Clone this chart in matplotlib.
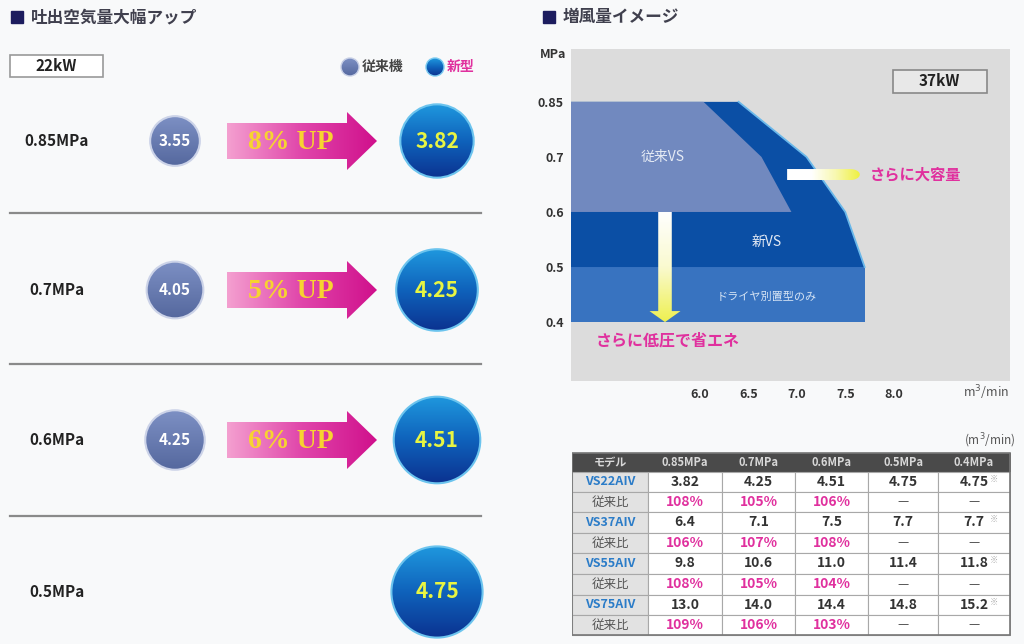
import numpy as np
import matplotlib
matplotlib.use('Agg')
import matplotlib.pyplot as plt
from matplotlib.patches import Circle, Polygon, Rectangle
from matplotlib.colors import LinearSegmentedColormap

plt.rcParams['font.family'] = ['Noto Sans CJK JP', 'DejaVu Sans']

# ---- data ----
kw22_pressures = ['0.85MPa', '0.7MPa', '0.6MPa', '0.5MPa']
kw22_old = [3.55, 4.05, 4.25]
models = ['VS22AⅣ', 'VS37AⅣ', 'VS55AⅣ', 'VS75AⅣ']
decimals = [2, 1, 1, 1]
table_pressures = [0.85, 0.7, 0.6, 0.5, 0.4]
header = ['モデル', '0.85MPa', '0.7MPa', '0.6MPa', '0.5MPa', '0.4MPa']
flows = [[3.82, 4.25, 4.51, 4.75, 4.75],
         [6.4, 7.1, 7.5, 7.7, 7.7],
         [9.8, 10.6, 11.0, 11.4, 11.8],
         [13.0, 14.0, 14.4, 14.8, 15.2]]
ratios = [[108, 105, 106],
          [106, 107, 108],
          [108, 105, 104],
          [109, 106, 103]]
x_ticks = [6.0, 6.5, 7.0, 7.5, 8.0]
y_levels = [0.4, 0.5, 0.6, 0.7, 0.85]

W, H = 1024, 644
BG = '#f8f9fa'
MAG = '#e0309e'
NEW_COLS = ['#1f98de', '#0f62bb', '#0b3290']
OLD_COLS = ['#7d90c4', '#55689e']

fig = plt.figure(figsize=(W / 100, H / 100), dpi=100)
fig.patch.set_facecolor(BG)


def px_axes(x0, y0, x1, y1):
    return fig.add_axes([x0 / W, 1 - y1 / H, (x1 - x0) / W, (y1 - y0) / H])


def grad_fill(ax, patch, colors, extent, vertical=True, z=3):
    patch.set_facecolor('none')
    patch.set_zorder(z + 0.1)
    ax.add_patch(patch)
    cmap = LinearSegmentedColormap.from_list('g', colors)
    g = np.linspace(0, 1, 256)
    arr = g[:, None] if vertical else g[None, :]
    im = ax.imshow(arr, cmap=cmap, extent=extent, aspect='auto',
                   interpolation='bicubic', zorder=z)
    im.set_clip_path(patch)


bg = fig.add_axes([0, 0, 1, 1])
bg.axis('off')

# ---- titles ----
for x, title in [(11, '吐出空気量大幅アップ'), (543, '増風量イメージ')]:
    bg.add_patch(Rectangle((x, 11), 12, 12, color='#1c1c5e'))
    bg.text(x + 20, 17, title, fontsize=12, fontweight='bold', color='#40404e',
            va='center', ha='left')

# ---- left panel ----
bg.add_patch(Rectangle((10, 55), 93, 22, fc='white', ec='#999999', lw=1.2))
bg.text(56, 66, '22kW', fontsize=11, fontweight='bold', ha='center', va='center', color='#222')

grad_fill(bg, Circle((350, 67), 9, ec='#c8d0e6', lw=1), OLD_COLS, (341, 359, 76, 58))
bg.text(362, 67, '従来機', fontsize=10, fontweight='bold', color='#444', va='center')
grad_fill(bg, Circle((435, 67), 9, ec='#7ccbf0', lw=1), NEW_COLS, (426, 444, 76, 58))
bg.text(447, 67, '新型', fontsize=10, fontweight='bold', color=MAG, va='center')

rows_y = [141, 290, 440, 592]
for y in [213, 364, 516]:
    bg.plot([10, 481], [y, y], color='#8a8a8a', lw=1.6)

for i, (label, cy) in enumerate(zip(kw22_pressures, rows_y)):
    bg.text(57, cy, label, fontsize=11, fontweight='bold', color='#222', ha='center', va='center')
    new_v = flows[0][i]
    r = 9.6 * new_v
    grad_fill(bg, Circle((437, cy), r, ec='#6cc4ee', lw=1.5),
              NEW_COLS, (437 - r, 437 + r, cy + r, cy - r))
    bg.text(437, cy, f'{new_v:.2f}', fontsize=15, fontweight='bold', color='#e8f542',
            ha='center', va='center', zorder=5)
    if i < len(kw22_old):
        old_v = kw22_old[i]
        r = 7.0 * old_v
        grad_fill(bg, Circle((175, cy), r, ec='#ccd3e8', lw=1.5),
                  OLD_COLS, (175 - r, 175 + r, cy + r, cy - r))
        bg.text(175, cy, f'{old_v:.2f}', fontsize=11, fontweight='bold', color='white',
                ha='center', va='center', zorder=5)
        verts = [(227, cy - 18), (347, cy - 18), (347, cy - 29), (377, cy),
                 (347, cy + 29), (347, cy + 18), (227, cy + 18)]
        grad_fill(bg, Polygon(verts, closed=True, lw=0), ['#f4a0d0', '#e045aa', '#d0108c'],
                  (227, 377, cy + 29, cy - 29), vertical=False)
        bg.text(291, cy + 1, f'{ratios[0][i] - 100}% UP', fontsize=20, fontweight='heavy',
                family=['Liberation Serif', 'DejaVu Serif'], color='#f7d330',
                ha='center', va='center', zorder=5)

bg.set_xlim(0, W)
bg.set_ylim(H, 0)

# ---- right chart ----
ax = px_axes(571, 49, 1010, 381)
ax.set_facecolor('#dcdcdc')


def ypos(p):
    return np.interp(p, y_levels, np.arange(len(y_levels)))


x0, x1 = 4.67, 9.2
new37 = flows[1]
old37 = [v / (r / 100) for v, r in zip(new37, ratios[1])]

ax.add_patch(Rectangle((x0, ypos(0.4)), new37[4] - x0, ypos(0.5) - ypos(0.4),
                       color='#3873c0', lw=0, zorder=2))
new_poly = [(x0, ypos(0.85))] + [(v, ypos(p)) for v, p in zip(new37[:4], table_pressures[:4])] \
    + [(x0, ypos(0.5))]
ax.add_patch(Polygon(new_poly, closed=True, color='#0b4fa5', lw=0, zorder=2))
ax.plot(new37[:4], [ypos(p) for p in table_pressures[:4]], color='#6ab8ea', lw=1.3, zorder=2.5)
old_poly = [(x0, ypos(0.85))] + [(v, ypos(p)) for v, p in zip(old37, table_pressures[:3])] \
    + [(x0, ypos(0.6))]
ax.add_patch(Polygon(old_poly, closed=True, color='#7189bf', lw=0, zorder=2.6))

ax.text(5.62, 3.0, '従来VS', fontsize=10, color='#e4eaf4', ha='center', va='center', zorder=4)
ax.text(6.69, 1.45, '新VS', fontsize=10, color='#e4eaf4', ha='center', va='center', zorder=4)
ax.text(6.69, 0.45, 'ドライヤ別置型のみ', fontsize=8, color='#d6e4f4', ha='center', va='center', zorder=4)

# down arrow
ax_c = 5.64
varrow = [(ax_c - 0.07, 2.0), (ax_c + 0.07, 2.0), (ax_c + 0.07, 0.2), (ax_c + 0.16, 0.2),
          (ax_c, 0.0), (ax_c - 0.16, 0.2), (ax_c - 0.07, 0.2)]
grad_fill(ax, Polygon(varrow, closed=True, lw=0), ['#ffffff', '#fafad0', '#eef050'],
          (ax_c - 0.16, ax_c + 0.16, 0.0, 2.0), z=3)
# right arrow with rounded tip
ya, yb = 2.58, 2.78
t = np.linspace(-np.pi / 2, np.pi / 2, 30)
tip = [(7.55 + 0.1 * np.cos(a), (ya + yb) / 2 + (yb - ya) / 2 * np.sin(a)) for a in t]
harrow = [(6.9, ya)] + tip + [(6.9, yb)]
grad_fill(ax, Polygon(harrow, closed=True, lw=0), ['#ffffff', '#ffffff', '#f8f8b0', '#eef040'],
          (6.9, 7.65, ya, yb), vertical=False, z=3)
ax.text(7.75, 2.68, 'さらに大容量', fontsize=11, fontweight='bold', color=MAG, va='center', zorder=4)
ax.text(4.92, -0.33, 'さらに低圧で省エネ', fontsize=11.5, fontweight='bold', color=MAG,
        va='center', zorder=4)

ax.add_patch(Rectangle((7.99, 4.16), 0.97, 0.42, fc='#e8e8e8', ec='#888888', lw=1.2, zorder=4))
ax.text(8.475, 4.37, '37kW', fontsize=11, fontweight='bold', ha='center', va='center', color='#222', zorder=5)

ax.set_xlim(x0, x1)
ax.set_ylim(-1.07, 4.96)
ax.set_xticks(x_ticks)
ax.set_xticklabels([f'{v:.1f}' for v in x_ticks], fontsize=9, fontweight='bold', color='#333')
ax.set_yticks([ypos(p) for p in y_levels])
ax.set_yticklabels([f'{p:g}' for p in y_levels], fontsize=9, fontweight='bold', color='#333')
ax.tick_params(length=0, pad=5)
for s in ax.spines.values():
    s.set_visible(False)
bg.text(566, 54, 'MPa', fontsize=9, fontweight='bold', color='#333', ha='right', va='center')
bg.text(1009, 393, 'm$^3$/min', fontsize=9, color='#555', ha='right', va='center')

# ---- table ----
col_x = [572, 648, 722, 795, 868, 938, 1010]
row_y = [453, 472, 492, 512, 533, 553, 574, 595, 615, 635]
tax = px_axes(572, 452, 1011, 637)
tax.axis('off')
bg.text(1016, 441, '(m$^3$/min)', fontsize=8.5, color='#555', ha='right', va='center')

tax.add_patch(Rectangle((col_x[0], row_y[0]), col_x[-1] - col_x[0], row_y[1] - row_y[0],
                        fc='#4a4a4a', ec='#4a4a4a', lw=0.8))
for j, h in enumerate(header):
    tax.text((col_x[j] + col_x[j + 1]) / 2, (row_y[0] + row_y[1]) / 2, h, fontsize=8,
             fontweight='bold', color='#d8d8d8', ha='center', va='center')

for i, m in enumerate(models):
    for k in range(2):
        r = 1 + 2 * i + k
        y_top, y_bot = row_y[r], row_y[r + 1]
        yc = (y_top + y_bot) / 2
        for j in range(6):
            fc = '#e2e2e2' if j == 0 else 'white'
            tax.add_patch(Rectangle((col_x[j], y_top), col_x[j + 1] - col_x[j], y_bot - y_top,
                                    fc=fc, ec='#a8a8a8', lw=0.8))
            xc = (col_x[j] + col_x[j + 1]) / 2
            if j == 0:
                if k == 0:
                    tax.text(xc, yc, m, fontsize=9, fontweight='bold', color='#2b7cc8',
                             ha='center', va='center')
                else:
                    tax.text(xc, yc, '従来比', fontsize=9, color='#555', ha='center', va='center')
            elif k == 0:
                tax.text(xc, yc, f'{flows[i][j - 1]:.{decimals[i]}f}', fontsize=10,
                         fontweight='bold', color='#333', ha='center', va='center')
                if j == 5:
                    tax.text(xc + 16, yc - 3, '※', fontsize=6, color='#aaa', ha='left', va='center')
            else:
                if j <= 3:
                    tax.text(xc, yc, f'{ratios[i][j - 1]}%', fontsize=10, fontweight='bold',
                             color=MAG, ha='center', va='center')
                else:
                    tax.text(xc, yc, '—', fontsize=9, color='#555', ha='center', va='center')

tax.add_patch(Rectangle((col_x[0], row_y[0]), col_x[-1] - col_x[0], row_y[-1] - row_y[0],
                        fill=False, ec='#777777', lw=1.2))
tax.set_xlim(572, 1011)
tax.set_ylim(637, 452)

fig.savefig('out.png', dpi=100, facecolor=BG)
